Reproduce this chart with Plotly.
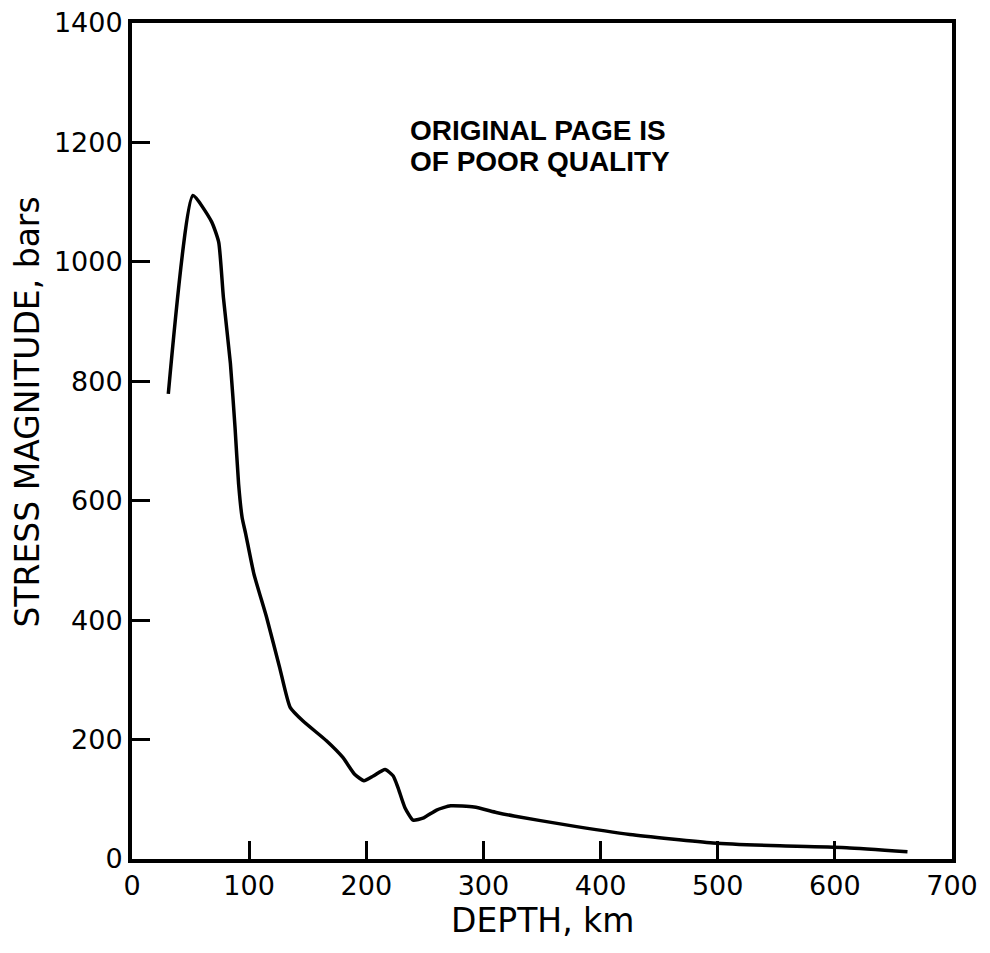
import plotly.graph_objects as go

# depth (km) and stress magnitude (bars)
depth_km = [31, 52, 68, 74, 78, 84, 88, 91, 94, 97, 104, 115, 126, 135,
            146, 166, 180, 190, 198, 206, 216, 223, 227, 233, 240, 249,
            260, 272, 292, 311, 326, 368, 425, 496, 553, 610, 662]
stress_bars = [779, 1111, 1067, 1033, 941, 830, 721, 628, 572, 545, 478,
               404, 321, 254, 231, 198, 170, 142, 131, 139, 150, 139, 120,
               86, 65, 69, 82, 89, 87, 78, 72, 58, 41, 27, 22, 19, 12]

x_ticks = [0, 100, 200, 300, 400, 500, 600, 700]
y_ticks = [0, 200, 400, 600, 800, 1000, 1200, 1400]

tick_font = dict(family='DejaVu Sans', size=27, color='black')

fig = go.Figure()
fig.add_trace(
    go.Scatter(
        x=depth_km,
        y=stress_bars,
        mode='lines',
        line=dict(color='black', width=3.5, shape='spline', smoothing=0.5),
        showlegend=False
    )
)

# the page body adds an 8px margin, so the figure is a bit smaller than the window
fig.update_layout(
    width=982,
    height=945,
    margin=dict(l=124, r=38, t=15, b=94),
    plot_bgcolor='white',
    paper_bgcolor='white',
    xaxis=dict(
        range=[0, 700],
        tickvals=x_ticks,
        ticks='inside',
        ticklen=18,
        tickwidth=3,
        tickcolor='black',
        showline=True,
        linewidth=4,
        linecolor='black',
        mirror=True,
        showgrid=False,
        zeroline=False,
        automargin=False,
        layer='above traces',
        ticklabeloverflow='allow',
        tickfont=tick_font
    ),
    yaxis=dict(
        range=[0, 1400],
        tickvals=y_ticks,
        ticks='inside',
        ticklen=18,
        tickwidth=3,
        tickcolor='black',
        showline=True,
        linewidth=4,
        linecolor='black',
        mirror=True,
        showgrid=False,
        zeroline=False,
        automargin=False,
        layer='above traces',
        ticklabeloverflow='allow',
        tickfont=tick_font
    ),
    annotations=[
        dict(text='DEPTH, km', xref='paper', yref='paper',
             x=0.5, y=-0.074, xanchor='center', yanchor='middle', showarrow=False,
             font=dict(family='DejaVu Sans', size=33, color='black')),
        dict(text='STRESS MAGNITUDE, bars', textangle=-90, xref='paper', yref='paper',
             x=-0.127, y=0.535, xanchor='center', yanchor='middle', showarrow=False,
             font=dict(family='DejaVu Sans', size=33, color='black')),
        dict(text='<b>ORIGINAL PAGE IS</b>', xref='paper', yref='paper',
             x=0.337, y=0.871, xanchor='left', yanchor='middle', showarrow=False,
             font=dict(family='Liberation Sans', size=28, color='black')),
        dict(text='<b>OF POOR QUALITY</b>', xref='paper', yref='paper',
             x=0.337, y=0.834, xanchor='left', yanchor='middle', showarrow=False,
             font=dict(family='Liberation Sans', size=28, color='black')),
    ]
)

fig.write_html("out.html")
